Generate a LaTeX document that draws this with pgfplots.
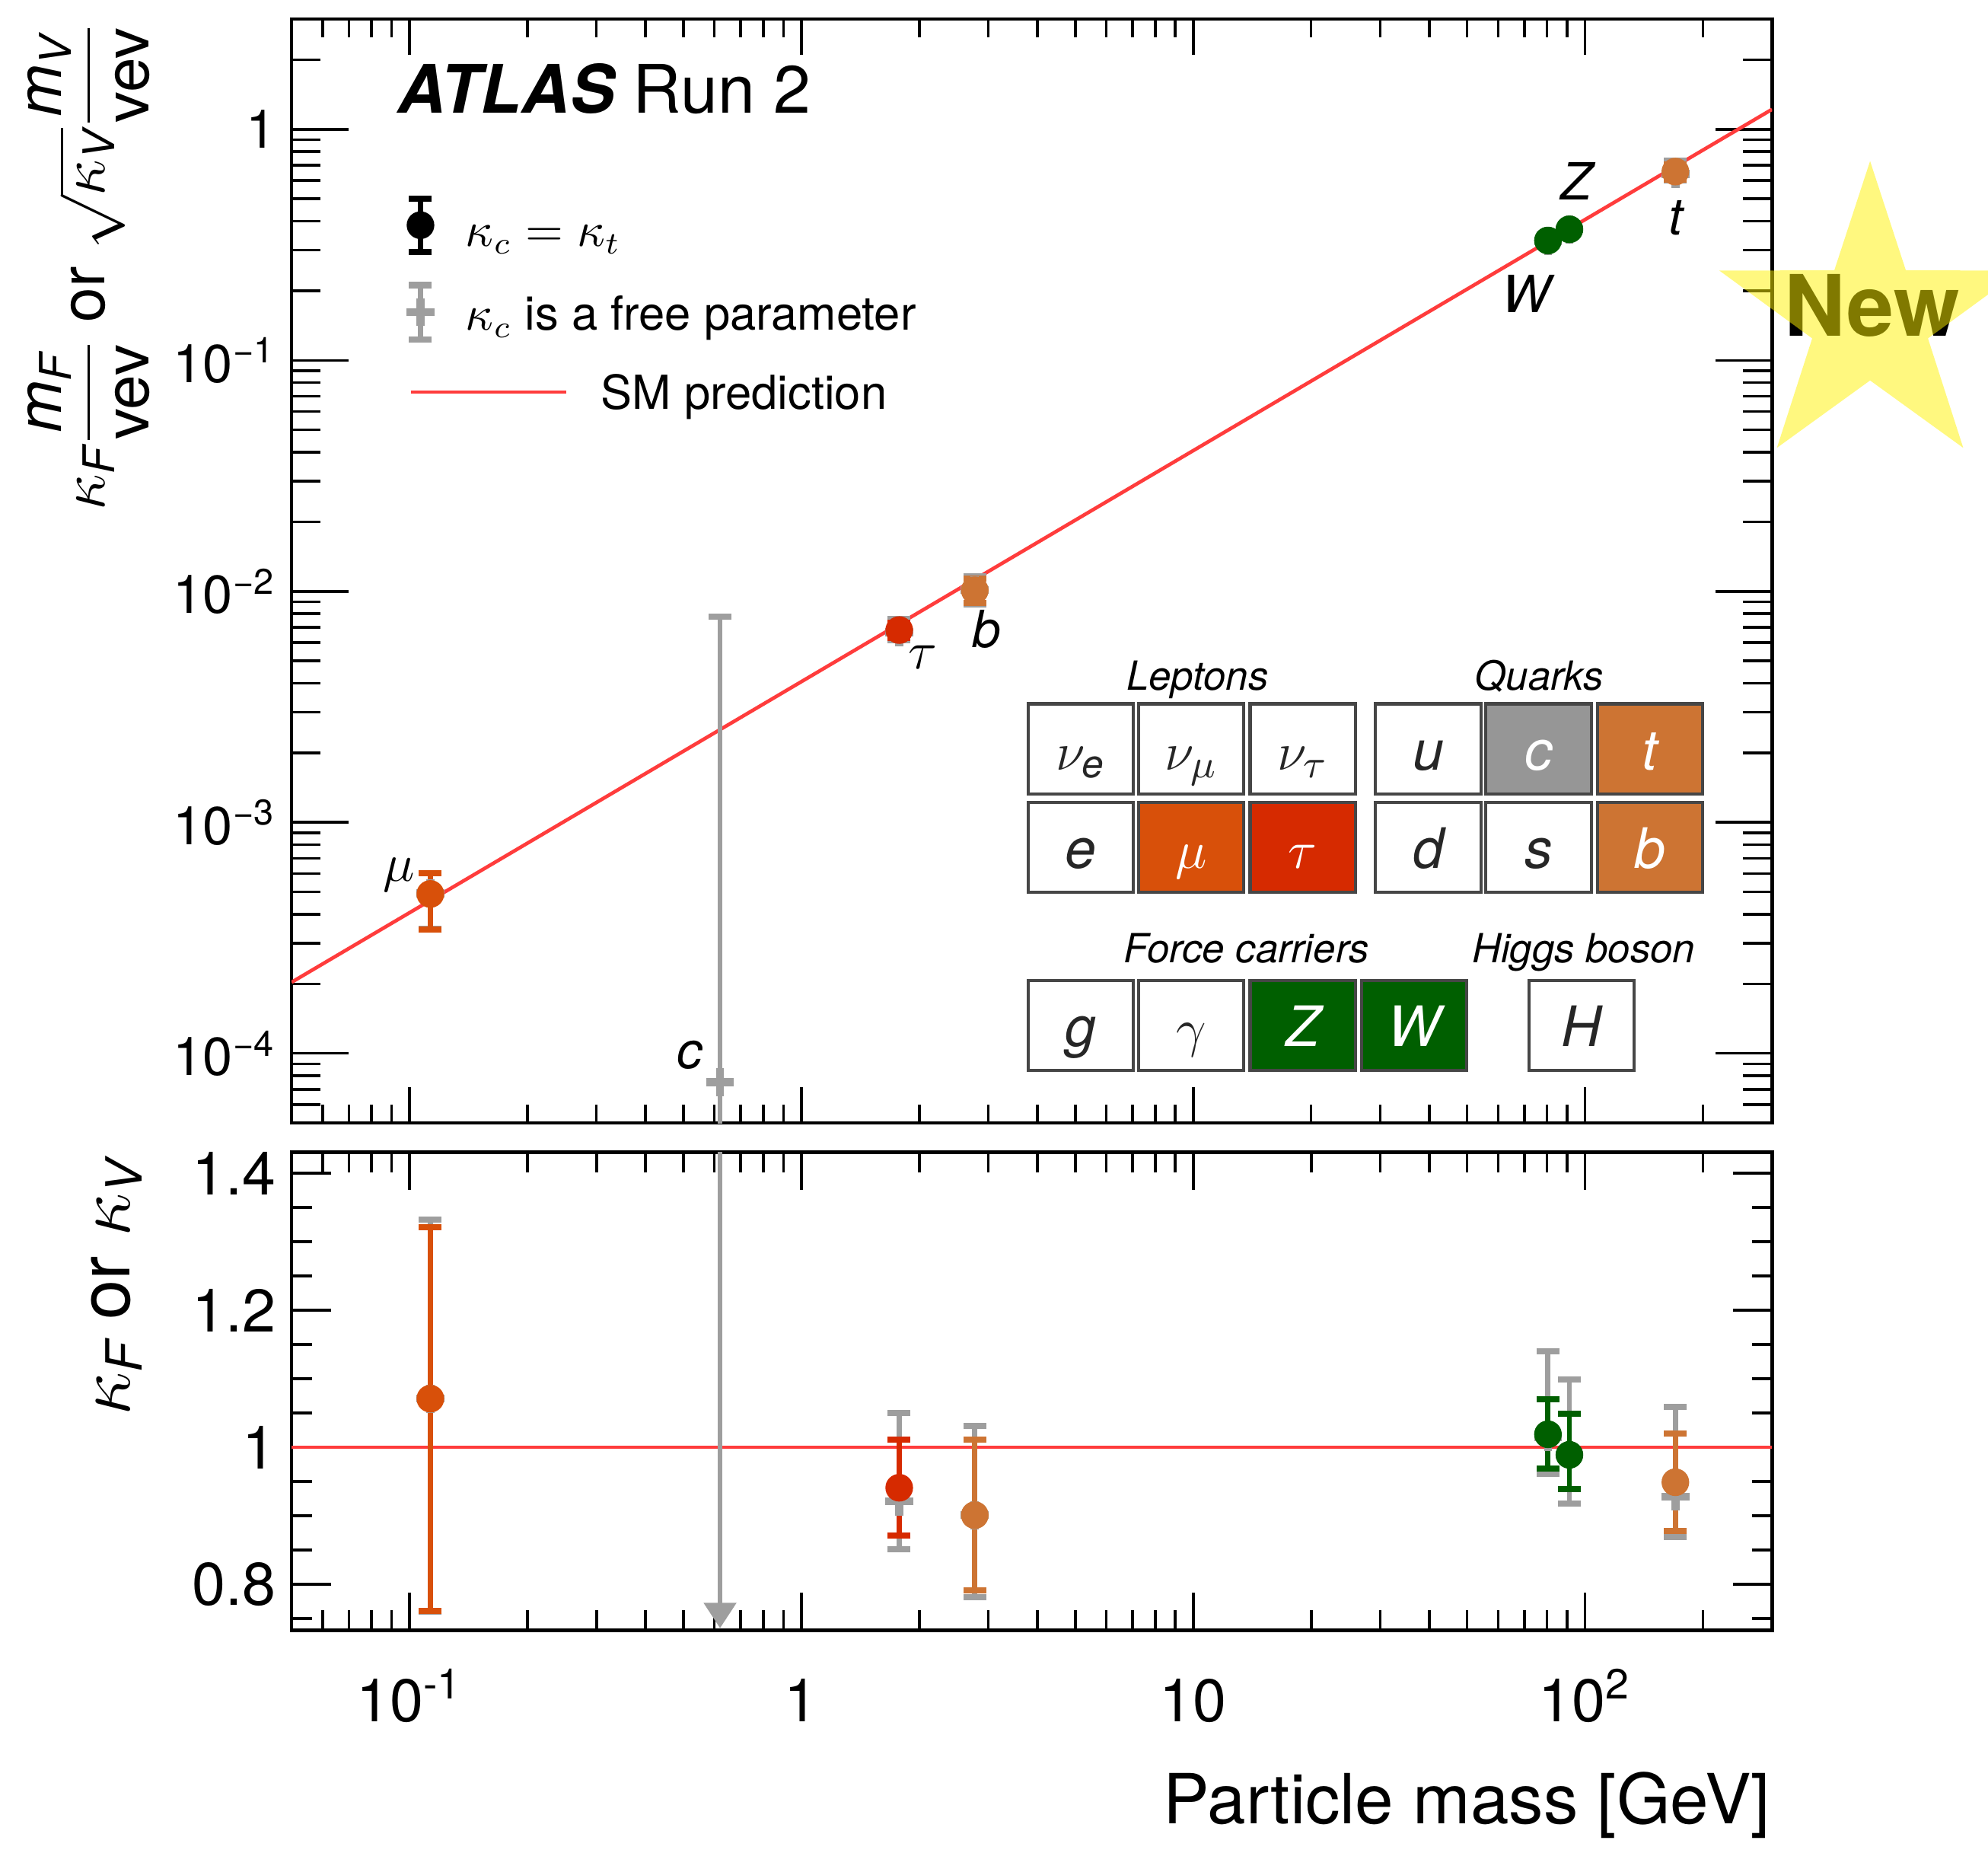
\documentclass[border=0pt]{standalone}
\usepackage{amsmath}
\usepackage{fontspec}
\setmainfont{TeX Gyre Heros}
\usepackage{pgfplots}
\pgfplotsset{compat=1.18}
\usetikzlibrary{arrows.meta}

\definecolor{cmu}{RGB}{216,80,10}
\definecolor{ctau}{RGB}{214,42,0}
\definecolor{cbt}{RGB}{205,116,51}
\definecolor{cgreen}{RGB}{0,95,0}
\definecolor{cgrey}{RGB}{158,158,158}
\definecolor{cbox}{RGB}{150,150,150}
\definecolor{smred}{RGB}{255,60,60}
\definecolor{boxline}{RGB}{70,70,70}

\newcommand{\fs}[1]{\fontsize{#1}{#1}\selectfont}

% one box of the particle table (pixel coordinates of the reference)
\newcommand{\pbox}[5]{%
  \filldraw[fill=#3, draw=boxline, line width=0.7pt] (#1,#2) rectangle ++(83,71);
  \node[anchor=base, font=\fs{12.5}\itshape, text=#4, inner sep=0pt] at (#1+41.5,#2+52) {#5};}

\pgfplotsset{
  ebar/.style={/pgfplots/error bars/y dir=both, /pgfplots/error bars/y explicit,
    /pgfplots/error bars/error mark=-,
    /pgfplots/error bars/error bar style={line width=1.15pt},
    /pgfplots/error bars/error mark options={rotate=90, line width=1.4pt, mark size=0.09cm}},
  cpts/.style={forget plot, only marks, color=#1, mark=*, mark size=2.9pt, ebar},
  gpts/.style={forget plot, only marks, color=cgrey, mark=+, mark size=0.11cm,
    mark options={line width=1.8pt}, ebar},
}

\begin{document}
\begin{tikzpicture}
% ---------------- top panel ----------------
\begin{axis}[name=top, at={(0,0)}, anchor=north west,
  scale only axis, width=11.67cm, height=8.70cm,
  xmode=log, ymode=log,
  xmin=0.05, xmax=300, ymin=5e-5, ymax=3,
  xtick={0.1,1,10,100}, xticklabels={},
  minor xtick={0.06,0.07,0.08,0.09,0.2,0.3,0.4,0.5,0.6,0.7,0.8,0.9,2,3,4,5,6,7,8,9,20,30,40,50,60,70,80,90,200},
  ytick={1e-4,1e-3,1e-2,1e-1,1},
  yticklabels={10\textsuperscript{−4},10\textsuperscript{−3},10\textsuperscript{−2},10\textsuperscript{−1},1},
  minor ytick={6e-5,7e-5,8e-5,9e-5,2e-4,3e-4,4e-4,5e-4,6e-4,7e-4,8e-4,9e-4,2e-3,3e-3,4e-3,5e-3,6e-3,7e-3,8e-3,9e-3,2e-2,3e-2,4e-2,5e-2,6e-2,7e-2,8e-2,9e-2,0.2,0.3,0.4,0.5,0.6,0.7,0.8,0.9,2},
  yticklabel style={font=\fs{12}},
  axis line style={line width=0.8pt},
  tick style={line width=0.6pt, black},
  xtick style={/pgfplots/major tick length=0.28cm, /pgfplots/minor tick length=0.145cm},
  ytick style={/pgfplots/major tick length=0.45cm, /pgfplots/minor tick length=0.23cm},
]
\addplot[forget plot, smred, line width=0.8pt] coordinates {(0.05,2.033e-4) (300,1.2195)};

% kappa_c free parameter
\addplot[gpts] table[x=x, y=y, y error plus=ep, y error minus=em] {
x      y        ep       em
0.113  4.92e-4  1.11e-4  1.47e-4
0.62   7.5e-5   7.7e-3   7.4e-5
1.777  6.65e-3  0.93e-3  0.50e-3
2.77   1.013e-2 1.48e-3  1.34e-3
80.4   0.329    0.020    0.009
91.2   0.369    0.020    0.014
170    0.641    0.091    0.041
};
% kappa_c = kappa_t
\addplot[cpts=cmu] table[x=x, y=y, y error plus=ep, y error minus=em] {
x      y        ep       em
0.113  4.90e-4  1.11e-4  1.47e-4
};
\addplot[cpts=ctau] table[x=x, y=y, y error plus=ep, y error minus=em] {
x      y        ep       em
1.777  6.80e-3  0.50e-3  0.51e-3
};
\addplot[cpts=cbt] table[x=x, y=y, y error plus=ep, y error minus=em] {
x      y        ep       em
2.77   1.01e-2  1.28e-3  1.20e-3
170    0.656    0.049    0.049
};
\addplot[cpts=cgreen] table[x=x, y=y, y error plus=ep, y error minus=em] {
x      y        ep       em
80.4   0.330    0.007    0.009
91.2   0.369    0.010    0.011
};
\end{axis}

% ---------------- legend keys (hidden axis in reference pixel units) ----------------
\begin{axis}[at={(0,0)}, anchor=north west, scale only axis,
  width=11.67cm, height=8.70cm, xmin=230, xmax=1397, ymin=-885, ymax=-15,
  hide axis, clip=false]
\addplot[cpts=black] table[x=x, y=y, y error plus=ep, y error minus=em] {
x      y       ep    em
331.6  -177.5  21    21
};
\addplot[gpts] table[x=x, y=y, y error plus=ep, y error minus=em] {
x      y       ep    em
331.6  -246.1  21.4  21.4
};
\addplot[forget plot, smred, line width=0.8pt] coordinates {(324,-309) (446.6,-309)};
\end{axis}

% ---------------- bottom panel ----------------
\begin{axis}[name=bot, at={(0,-8.93cm)}, anchor=north west,
  scale only axis, width=11.67cm, height=3.77cm,
  xmode=log, xmin=0.05, xmax=300,
  ymin=0.7326, ymax=1.4307,
  xtick={0.1,1,10,100},
  minor xtick={0.06,0.07,0.08,0.09,0.2,0.3,0.4,0.5,0.6,0.7,0.8,0.9,2,3,4,5,6,7,8,9,20,30,40,50,60,70,80,90,200},
  xticklabels={10\textsuperscript{-1},1,10,10\textsuperscript{2}},
  ytick={0.8,1,1.2,1.4}, yticklabels={0.8,1,1.2,1.4},
  minor ytick={0.75,0.85,0.9,0.95,1.05,1.1,1.15,1.25,1.3,1.35},
  xticklabel style={font=\fs{13.5}, anchor=base, yshift=-0.72cm},
  yticklabel style={font=\fs{13.5}},
  axis line style={line width=0.8pt},
  tick style={line width=0.6pt, black},
  xtick style={/pgfplots/major tick length=0.30cm, /pgfplots/minor tick length=0.16cm},
  ytick style={/pgfplots/major tick length=0.31cm, /pgfplots/minor tick length=0.16cm},
]
\addplot[forget plot, smred, line width=0.8pt] coordinates {(0.05,1) (300,1)};
\addplot[forget plot, cgrey, line width=1.1pt, -{Triangle[width=0.25cm,length=0.2cm]}]
  coordinates {(0.62,1.6) (0.62,0.736)};

\addplot[gpts] table[x=x, y=y, y error plus=ep, y error minus=em] {
x      y      ep     em
0.113  1.071  0.261  0.311
1.777  0.921  0.129  0.070
2.77   0.901  0.130  0.120
80.4   1.015  0.125  0.054
91.2   0.989  0.110  0.071
170    0.928  0.131  0.059
};
\addplot[cpts=cmu] table[x=x, y=y, y error plus=ep, y error minus=em] {
x      y      ep     em
0.113  1.071  0.250  0.310
};
\addplot[cpts=ctau] table[x=x, y=y, y error plus=ep, y error minus=em] {
x      y      ep     em
1.777  0.941  0.070  0.070
};
\addplot[cpts=cbt] table[x=x, y=y, y error plus=ep, y error minus=em] {
x      y      ep     em
2.77   0.901  0.110  0.110
170    0.949  0.071  0.071
};
\addplot[cpts=cgreen] table[x=x, y=y, y error plus=ep, y error minus=em] {
x      y      ep     em
80.4   1.019  0.051  0.050
91.2   0.989  0.060  0.050
};
\end{axis}

% ---------------- texts and the particle table (reference pixel units) ----------------
\begin{scope}[x=0.01cm, y=-0.01cm, shift={(-230,-15)}]
\node[anchor=base west, font=\fs{15}, inner sep=0pt] at (313,89) {{\bfseries\itshape ATLAS} Run 2};

% legend texts
\node[anchor=base west, font=\fs{10.5}, inner sep=0pt] at (366.6,194.5) {$\kappa_c = \kappa_t$};
\node[anchor=base west, font=\fs{10.5}, inner sep=0pt] at (366.6,260.2) {$\kappa_c$ is a free parameter};
\node[anchor=base west, font=\fs{10.5}, inner sep=0pt] at (473.4,322.7) {SM prediction};

\node[rotate=90, anchor=east, font=\fs{14}, inner sep=0pt] at (70,17)
  {$\kappa_{\text{\itshape F}}\dfrac{\text{\itshape m}_{\text{\itshape F}}}{\text{vev}}$ or $\sqrt{\kappa_{\text{\itshape V}}}\dfrac{\text{\itshape m}_{\text{\itshape V}}}{\text{vev}}$};
\node[rotate=90, anchor=east, font=\fs{16}, inner sep=0pt] at (92,912)
  {$\kappa_{\text{\itshape F}}$ or $\kappa_{\text{\itshape V}}$};
\node[anchor=base east, font=\fs{15.5}, inner sep=0pt] at (1397,1438) {Particle mass [GeV]};

% point labels
\node[font=\fs{12}] at (314.6,690) {$\mu$};
\node[font=\fs{11.5}\itshape] at (543.8,832) {c};
\node[font=\fs{12}] at (728,518) {$\tau$};
\node[font=\fs{11.5}\itshape] at (778,496) {b};
\node[font=\fs{11.5}\itshape] at (1204,231.7) {W};
\node[font=\fs{11.5}\itshape] at (1243,143) {Z};
\node[font=\fs{11.5}\itshape] at (1322,172) {t};

% particle table
\node[anchor=base, font=\fs{9}\itshape] at (944.5,544) {Leptons};
\node[anchor=base, font=\fs{9}\itshape] at (1214,544) {Quarks};
\node[anchor=base, font=\fs{9}\itshape] at (983,759) {Force carriers};
\node[anchor=base, font=\fs{9}\itshape] at (1249,759) {Higgs boson};
\pbox{811}{555}{white}{black!85}{$\nu_{\text{e}}$}
\pbox{898}{555}{white}{black!85}{$\nu_{\mu}$}
\pbox{986}{555}{white}{black!85}{$\nu_{\tau}$}
\pbox{1085}{555}{white}{black!85}{u}
\pbox{1172}{555}{cbox}{white}{c}
\pbox{1260}{555}{cbt}{white}{t}
\pbox{811}{632.5}{white}{black!85}{e}
\pbox{898}{632.5}{cmu}{white}{$\mu$}
\pbox{986}{632.5}{ctau}{white}{$\tau$}
\pbox{1085}{632.5}{white}{black!85}{d}
\pbox{1172}{632.5}{white}{black!85}{s}
\pbox{1260}{632.5}{cbt}{white}{b}
\pbox{811}{773}{white}{black!85}{g}
\pbox{898}{773}{white}{black!85}{$\gamma$}
\pbox{986}{773}{cgreen}{white}{Z}
\pbox{1074}{773}{cgreen}{white}{W}
\pbox{1206}{773}{white}{black!85}{H}

% "New" star
\node[anchor=base, font=\fs{19}\bfseries, inner sep=0pt] at (1476.5,265) {New};
\begin{scope}[shift={(1475,252)}]
\fill[yellow, opacity=0.5] (-90:125) -- (-54:48) -- (-18:125) -- (18:48) -- (54:125)
  -- (90:48) -- (126:125) -- (162:48) -- (198:125) -- (234:48) -- cycle;
\end{scope}

\pgfresetboundingbox
\useasboundingbox (0,0) rectangle (1568,1461);
\end{scope}
\end{tikzpicture}
\end{document}
